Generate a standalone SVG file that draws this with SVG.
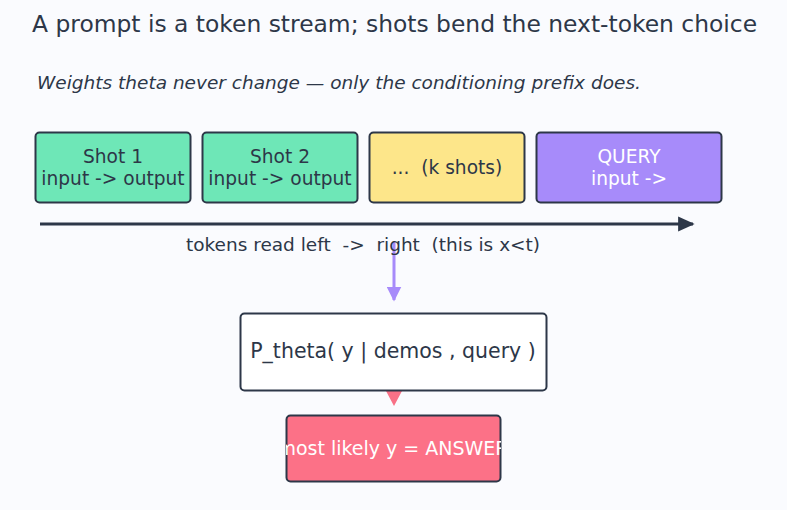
<svg xmlns="http://www.w3.org/2000/svg" width="787" height="510" viewBox="0 0 787 510">
<style>
text{font-family:"DejaVu Sans","Liberation Sans",sans-serif;fill:#2d3748;white-space:pre}
.box{stroke:#2d3748;stroke-width:2}
.lbl{font-size:18.6px;text-anchor:middle}
.w{fill:#ffffff}
</style>
<defs>
<marker id="ad" viewBox="0 0 10 10" refX="9" refY="5" markerWidth="5.5" markerHeight="5.5" orient="auto"><path d="M0,0.5L10,5L0,9.5z" fill="#2d3748"/></marker>
<marker id="ap" viewBox="0 0 10 10" refX="9" refY="5" markerWidth="5" markerHeight="5" orient="auto"><path d="M0,0L10,5L0,10z" fill="#a78bfa"/></marker>
<clipPath id="cr"><rect x="286" y="415" width="215" height="66"/></clipPath>
</defs>
<rect width="787" height="510" fill="#fafbfe"/>
<text x="32" y="32" font-size="23.4">A prompt is a token stream; shots bend the next-token choice</text>
<text x="37" y="89" font-size="18.5" font-style="italic">Weights theta never change — only the conditioning prefix does.</text>
<g id="shot1"><rect class="box" x="35.5" y="132.5" width="155" height="70" rx="4" fill="#6ee7b7"/><text class="lbl" x="113" y="163">Shot 1</text><text class="lbl" x="113" y="185">input -&gt; output</text></g>
<g id="shot2"><rect class="box" x="202.5" y="132.5" width="155" height="70" rx="4" fill="#6ee7b7"/><text class="lbl" x="280" y="163">Shot 2</text><text class="lbl" x="280" y="185">input -&gt; output</text></g>
<g id="kshots"><rect class="box" x="369.5" y="132.5" width="155" height="70" rx="4" fill="#fde68a"/><text class="lbl" x="447" y="174">...  (k shots)</text></g>
<g id="query"><rect class="box" x="536.5" y="132.5" width="185" height="70" rx="4" fill="#a78bfa"/><text class="lbl w" x="629" y="163">QUERY</text><text class="lbl w" x="629" y="185">input -&gt;</text></g>
<g id="connectors">
<line x1="40" y1="224" x2="693" y2="224" stroke="#2d3748" stroke-width="3" marker-end="url(#ad)"/>
<line x1="394" y1="242" x2="394" y2="300" stroke="#a78bfa" stroke-width="3" marker-end="url(#ap)"/>
<path d="M386,391L402,391L394,406z" fill="#f87187"/>
</g>
<text x="363" y="251" font-size="18.5" text-anchor="middle">tokens read left  -&gt;  right  (this is x&lt;t)</text>
<g id="ptheta"><rect class="box" x="240.5" y="313.5" width="306" height="77" rx="4" fill="#ffffff"/><text x="393" y="358" font-size="20.5" text-anchor="middle">P_theta( y | demos , query )</text></g>
<g id="answer"><rect class="box" x="286.5" y="415.5" width="214" height="66" rx="4" fill="#fc7187"/><g clip-path="url(#cr)"><text x="393" y="455" font-size="19" text-anchor="middle" class="w">most likely y = ANSWER</text></g></g>
</svg>
